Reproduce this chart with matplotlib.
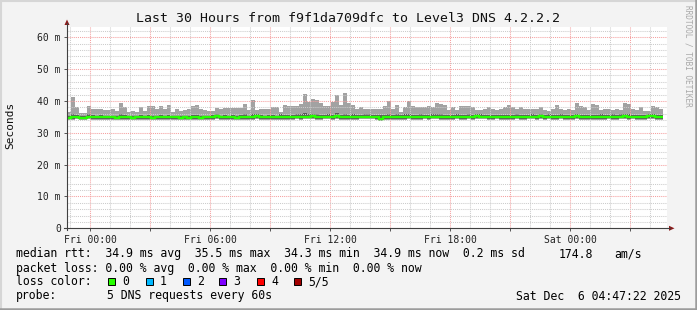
import numpy as np
import matplotlib
matplotlib.use("Agg")
import matplotlib.pyplot as plt
from matplotlib.lines import Line2D
from matplotlib.patches import Polygon, Rectangle
from matplotlib.ticker import MultipleLocator, FixedLocator

W, H = 697, 310
MONO = "DejaVu Sans Mono"

# ---- data (ms), one bar per 12 min, first bar starts 1.15 h before Fri 00:00 ----
t_start = -1.15
step_h = 0.2
rtt_max = [36.5, 41.3, 38.2, 36.3, 36.3, 38.4, 37.5, 37.3, 37.4, 37.1,
           37.1, 37.4, 36.8, 39.3, 38.2, 36.6, 36.8, 36.6, 38.1, 36.8,
           38.4, 38.4, 37.3, 38.4, 37.6, 38.8, 36.6, 37.6, 36.8, 37.1,
           37.6, 38.4, 38.7, 37.6, 37.1, 36.8, 36.8, 37.8, 37.6, 37.9,
           37.9, 37.9, 37.9, 37.9, 39.0, 37.1, 40.3, 37.1, 37.5, 37.5,
           37.5, 38.1, 38.1, 36.5, 38.6, 38.4, 38.4, 38.4, 38.9, 42.1,
           39.5, 40.6, 40.3, 39.4, 38.4, 38.4, 39.6, 41.7, 38.7, 42.4,
           39.2, 38.7, 37.6, 38.2, 37.3, 37.5, 37.6, 37.6, 37.6, 38.4,
           40.1, 37.6, 38.7, 36.6, 38.2, 40.1, 38.4, 38.0, 38.2, 38.0,
           38.4, 38.0, 39.2, 39.0, 38.7, 37.1, 38.0, 37.1, 38.4, 38.4,
           38.4, 38.2, 37.1, 37.1, 37.6, 38.0, 37.6, 37.1, 37.6, 38.0,
           38.7, 38.0, 37.6, 38.2, 37.6, 37.6, 37.3, 37.6, 38.0, 37.1,
           36.9, 37.4, 38.7, 37.3, 37.1, 37.6, 37.1, 39.2, 38.4, 38.2,
           37.1, 39.0, 38.7, 37.1, 37.3, 37.6, 37.1, 37.3, 37.1, 39.2,
           39.0, 37.6, 37.1, 38.0, 36.9, 36.9, 38.4, 38.2, 37.6]
rtt_p4 = [35.4, 35.9, 35.6, 35.3, 35.3, 35.8, 35.6, 35.4, 35.6, 35.3,
          35.3, 35.4, 35.3, 35.9, 35.6, 35.3, 35.3, 35.3, 35.6, 35.3,
          35.6, 35.4, 35.3, 35.6, 35.4, 35.7, 35.3, 35.4, 35.3, 35.3,
          35.4, 35.6, 35.6, 35.4, 35.3, 35.3, 35.6, 35.9, 35.4, 35.5,
          35.4, 35.5, 35.4, 35.6, 35.9, 35.4, 35.9, 35.8, 35.5, 35.4,
          35.5, 35.6, 35.4, 35.8, 35.6, 35.6, 35.7, 35.8, 35.9, 36.1,
          35.8, 36.0, 35.9, 35.7, 35.6, 35.8, 35.7, 36.1, 35.6, 36.0,
          35.7, 35.8, 35.6, 35.6, 35.9, 35.8, 35.6, 35.6, 35.5, 35.6,
          36.0, 35.6, 35.8, 35.6, 35.8, 36.0, 35.7, 35.6, 35.8, 35.6,
          35.6, 35.8, 36.0, 35.8, 35.7, 35.6, 35.6, 35.8, 35.6, 35.7,
          35.8, 35.6, 35.8, 35.8, 35.7, 35.6, 35.6, 35.7, 35.7, 35.6,
          35.6, 35.7, 35.8, 35.6, 35.7, 35.7, 35.8, 35.6, 36.0, 35.7,
          35.9, 35.6, 35.7, 35.8, 35.6, 35.7, 35.6, 36.0, 35.7, 35.6,
          35.7, 35.6, 35.6, 35.8, 35.7, 35.7, 35.8, 35.6, 35.8, 36.0,
          35.8, 35.7, 35.6, 35.7, 35.6, 35.9, 35.9, 35.6, 35.7]
rtt_med = [34.6, 34.9, 35.0, 34.7, 34.6, 35.1, 35.0, 34.8, 34.8, 34.8,
           34.8, 34.8, 34.7, 34.8, 34.8, 34.8, 34.7, 34.9, 34.8, 34.8,
           34.8, 34.7, 34.8, 34.9, 34.8, 34.8, 34.9, 34.8, 34.7, 34.8,
           34.7, 34.8, 34.8, 34.7, 34.8, 34.8, 35.0, 35.2, 34.8, 34.8,
           34.8, 34.8, 34.7, 34.8, 34.9, 34.8, 34.8, 35.2, 34.9, 34.8,
           34.8, 34.8, 34.9, 35.0, 34.9, 34.8, 35.0, 35.1, 35.1, 35.1,
           35.1, 35.2, 35.0, 34.9, 35.0, 35.1, 34.9, 35.3, 34.9, 34.9,
           34.9, 34.9, 34.9, 35.0, 35.1, 35.1, 35.1, 35.0, 34.4, 34.8,
           34.9, 34.8, 34.9, 34.9, 35.0, 35.0, 35.0, 34.9, 35.0, 35.0,
           34.8, 35.1, 35.1, 34.9, 35.0, 34.9, 34.9, 35.1, 34.8, 35.0,
           35.0, 34.9, 35.2, 35.1, 35.1, 35.0, 34.9, 35.1, 35.0, 34.9,
           34.9, 35.0, 35.0, 34.8, 35.0, 35.0, 35.1, 34.9, 35.4, 34.9,
           35.1, 34.9, 35.0, 35.0, 34.8, 35.0, 34.9, 35.2, 35.0, 34.9,
           35.0, 34.9, 34.8, 34.8, 35.0, 35.0, 35.0, 34.9, 35.1, 35.3,
           35.0, 35.0, 34.9, 35.0, 34.8, 35.2, 35.2, 34.9, 34.9]
rtt_p2 = [34.2, 34.4, 34.5, 34.3, 34.2, 34.5, 34.4, 34.3, 34.4, 34.3,
          34.3, 34.4, 34.3, 34.3, 34.2, 34.3, 34.3, 34.4, 34.3, 34.3,
          34.4, 34.3, 34.2, 34.4, 34.3, 34.3, 34.4, 34.3, 34.3, 34.3,
          34.2, 34.3, 34.4, 34.3, 34.3, 34.3, 34.4, 34.5, 34.3, 34.3,
          34.3, 34.4, 34.3, 34.3, 34.4, 34.3, 34.3, 34.5, 34.4, 34.3,
          34.3, 34.3, 34.4, 34.4, 34.4, 34.3, 34.4, 34.5, 34.4, 34.5,
          34.5, 34.6, 34.4, 34.4, 34.5, 34.5, 34.4, 34.6, 34.4, 34.4,
          34.4, 34.4, 34.4, 34.5, 34.5, 34.5, 34.5, 34.4, 33.9, 34.3,
          34.4, 34.3, 34.4, 34.4, 34.4, 34.5, 34.4, 34.4, 34.4, 34.5,
          34.3, 34.5, 34.5, 34.4, 34.4, 34.4, 34.4, 34.5, 34.3, 34.4,
          34.5, 34.4, 34.6, 34.5, 34.5, 34.4, 34.4, 34.5, 34.4, 34.4,
          34.4, 34.4, 34.5, 34.3, 34.4, 34.5, 34.5, 34.4, 34.7, 34.4,
          34.5, 34.4, 34.4, 34.5, 34.3, 34.4, 34.4, 34.6, 34.4, 34.4,
          34.4, 34.4, 34.3, 34.3, 34.4, 34.5, 34.4, 34.4, 34.5, 34.6,
          34.4, 34.5, 34.4, 34.4, 34.3, 34.6, 34.6, 34.4, 34.4]
rtt_min = [34.0, 34.1, 34.2, 34.0, 33.9, 34.2, 34.1, 34.0, 34.1, 34.0,
           34.0, 34.1, 34.0, 34.0, 33.9, 34.0, 34.0, 34.1, 34.0, 34.0,
           34.1, 34.0, 33.9, 34.1, 34.0, 34.0, 34.1, 34.0, 34.0, 34.0,
           33.9, 34.0, 34.1, 34.0, 34.0, 34.0, 34.1, 34.2, 34.0, 34.0,
           34.0, 34.1, 34.0, 34.0, 34.1, 34.0, 34.0, 34.2, 34.1, 34.0,
           34.0, 34.0, 34.1, 34.1, 34.1, 34.0, 34.1, 34.2, 34.1, 34.2,
           34.2, 34.3, 34.1, 34.1, 34.2, 34.2, 34.1, 34.3, 34.1, 34.1,
           34.1, 34.1, 34.1, 34.2, 34.2, 34.2, 34.2, 34.1, 33.7, 34.0,
           34.1, 34.0, 34.1, 34.1, 34.1, 34.2, 34.1, 34.1, 34.1, 34.2,
           34.0, 34.2, 34.2, 34.1, 34.1, 34.1, 34.1, 34.2, 34.0, 34.1,
           34.2, 34.1, 34.3, 34.2, 34.2, 34.1, 34.1, 34.2, 34.1, 34.1,
           34.1, 34.1, 34.2, 34.0, 34.1, 34.2, 34.2, 34.1, 34.4, 34.1,
           34.2, 34.1, 34.1, 34.2, 34.0, 34.1, 34.1, 34.3, 34.1, 34.1,
           34.1, 34.1, 34.0, 34.0, 34.1, 34.2, 34.1, 34.1, 34.2, 34.3,
           34.1, 34.2, 34.1, 34.1, 34.0, 34.3, 34.3, 34.1, 34.1]

y_ticks = [0, 10, 20, 30, 40, 50, 60]
y_labels = ["0", "10 m", "20 m", "30 m", "40 m", "50 m", "60 m"]
x_label_pos = [0, 6, 12, 18, 24]
x_labels = ["Fri 00:00", "Fri 06:00", "Fri 12:00", "Fri 18:00", "Sat 00:00"]

loss_names = ["0", "1", "2", "3", "4", "5/5"]
loss_colors = ["#26ff00", "#00b8ff", "#0059ff", "#7e00ff", "#ff0000", "#a10000"]


def fx(px):
    return px / W


def fy(py):
    return 1 - py / H


fig = plt.figure(figsize=(W / 100, H / 100), dpi=100, facecolor="#f3f3f3")

# plot area: x 67..667 px, y 27..228.3 px
ax = fig.add_axes([fx(67), fy(228.3), fx(600), (228.3 - 27) / H])
ax.set_facecolor("white")
n = len(rtt_max)
left = t_start + step_h * np.arange(n)
edges = t_start + step_h * np.arange(n + 1)
mx, p4, md, p2, mn = map(np.array, (rtt_max, rtt_p4, rtt_med, rtt_p2, rtt_min))

ax.bar(left, mx - mn, step_h, bottom=mn, align="edge", color="#a2a2a2", lw=0, zorder=1)
ax.bar(left, p4 - p2, step_h, bottom=p2, align="edge", color="#5a5a5a", lw=0, zorder=1.1)
ax.stairs(md, edges, baseline=None, color=loss_colors[0], lw=1.7, zorder=3)

ax.set_ylim(0, 63.2)
ax.yaxis.set_major_locator(FixedLocator(y_ticks))
ax.yaxis.set_minor_locator(MultipleLocator(2))
ax.set_yticklabels(y_labels)
ax.xaxis.set_major_locator(MultipleLocator(3))
ax.xaxis.set_minor_locator(MultipleLocator(1))
ax.set_xlim(t_start, t_start + 30)
maj = [v for v in ax.get_xticks()]
ax.set_xticks(maj)
ax.set_xticklabels([x_labels[x_label_pos.index(int(round(v)))] if int(round(v)) in x_label_pos else ""
                    for v in maj])
ax.set_xlim(t_start, t_start + 30)

ax.set_axisbelow(False)
ax.grid(which="minor", color="#cccccc", ls=(0, (1, 1)), lw=0.75)
ax.grid(which="major", color="#f5a0a0", ls=(0, (1, 1)), lw=0.75)
ax.tick_params(which="major", length=2, width=0.7, color="#555555", pad=2.5,
               labelsize=7, labelcolor="#222222")
ax.tick_params(which="minor", length=0)
for lab in ax.get_xticklabels() + ax.get_yticklabels():
    lab.set_fontfamily(MONO)
for s in ax.spines.values():
    s.set_visible(False)

# axes with arrows (rrdtool style)
fig.add_artist(Line2D([fx(67), fx(67)], [fy(230), fy(23)], color="#404040", lw=0.8))
fig.add_artist(Line2D([fx(64), fx(670)], [fy(228.3), fy(228.3)], color="#404040", lw=0.8))
fig.add_artist(Polygon([[fx(64.5), fy(25)], [fx(69.5), fy(25)], [fx(67), fy(19.5)]],
                       closed=True, color="#8b1a1a", lw=0))
fig.add_artist(Polygon([[fx(669), fy(225.8)], [fx(669), fy(230.8)], [fx(674.5), fy(228.3)]],
                       closed=True, color="#8b1a1a", lw=0))

# frame
fig.add_artist(Line2D([0, 1], [fy(0.5), fy(0.5)], color="#d6d6d6", lw=1.5))
fig.add_artist(Line2D([fx(0.5), fx(0.5)], [0, 1], color="#d6d6d6", lw=1.5))
fig.add_artist(Line2D([0, 1], [fy(309), fy(309)], color="#9c9c9c", lw=1.8))
fig.add_artist(Line2D([fx(696), fx(696)], [0, 1], color="#9c9c9c", lw=1.8))

# texts
fig.text(fx(348), fy(19), "Last 30 Hours from f9f1da709dfc to Level3 DNS 4.2.2.2",
         family=MONO, size=9.5, ha="center", va="center", color="#111111")
fig.text(fx(10), fy(125), "Seconds", family=MONO, size=8, rotation=90,
         ha="center", va="center", color="#111111")
fig.text(fx(688), fy(5), "RRDTOOL / TOBI OETIKER", family=MONO, size=5.6, rotation=270,
         ha="center", va="top", color="#a8a8a8")

fs = 8.3
fig.text(fx(16), fy(254), "median rtt:  34.9 ms avg  35.5 ms max  34.3 ms min  34.9 ms now  0.2 ms sd",
         family=MONO, size=fs, va="center")
fig.text(fx(559), fy(254), "174.8", family=MONO, size=fs, va="center")
fig.text(fx(614), fy(254), "am/s", family=MONO, size=fs, va="center")
fig.text(fx(16), fy(268.3), "packet loss: 0.00 % avg  0.00 % max  0.00 % min  0.00 % now",
         family=MONO, size=fs, va="center")
fig.text(fx(16), fy(281.7), "loss color:", family=MONO, size=fs, va="center")
sq_x = [108, 146, 183, 219, 257, 294]
for x0, name, col in zip(sq_x, loss_names, loss_colors):
    fig.add_artist(Rectangle((fx(x0), fy(285.2)), fx(7), 7 / H, facecolor=col,
                             edgecolor="black", lw=0.7))
    fig.text(fx(x0 + 14), fy(281.7), name, family=MONO, size=fs, va="center")
fig.text(fx(16), fy(296), "probe:", family=MONO, size=fs, va="center")
fig.text(fx(107), fy(296), "5 DNS requests every 60s", family=MONO, size=fs, va="center")
fig.text(fx(681), fy(296), "Sat Dec  6 04:47:22 2025", family=MONO, size=fs,
         va="center", ha="right")

fig.savefig("out.png", dpi=100, facecolor=fig.get_facecolor())
